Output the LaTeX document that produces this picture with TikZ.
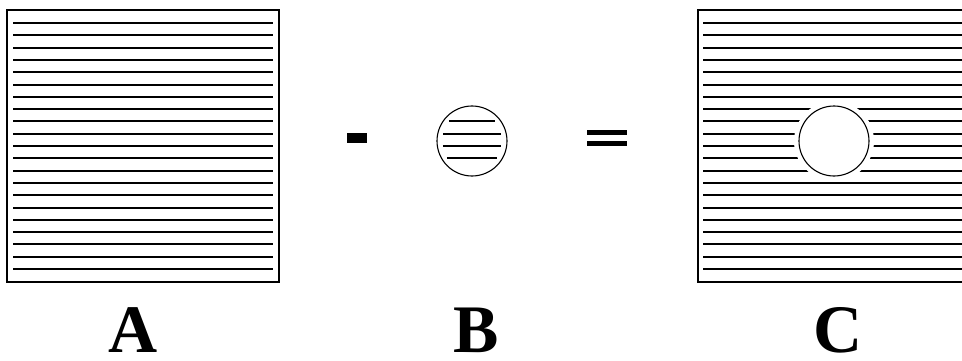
\documentclass[tikz,border=0pt]{standalone}
\usepackage{fontspec}
\setmainfont{Liberation Serif}
\begin{document}
\begin{tikzpicture}[x=1pt,y=-1pt,
  hatch/.style={line width=1.8pt},
  frame/.style={line width=1.8pt},
  ring/.style={line width=1.1pt},
  lbl/.style={font=\fontsize{68}{68}\selectfont\bfseries, anchor=base, inner sep=0pt, text depth=0pt}]
\clip (0,0) rectangle (962,361);
% Box A
\draw[frame] (7,10) rectangle (279,282);
\foreach \k in {0,...,20} {
  \pgfmathsetmacro{\yy}{round(23+12.3*\k)}
  \draw[hatch] (13,\yy) -- (273,\yy);
}
% minus
\fill (347,133) rectangle (367,143);
% circle B
\node[circle, draw, ring, minimum size=70pt, inner sep=0pt] (cb) at (472,141) {};
\foreach \k in {8,...,11} {
  \pgfmathsetmacro{\yy}{round(23+12.3*\k)}
  \pgfmathsetmacro{\hw}{sqrt(35*35-(\yy-141)*(\yy-141))-5.5}
  \draw[hatch] ({472-\hw},\yy) -- ({472+\hw},\yy);
}
% equals
\fill (587,130) rectangle (627,134.5);
\fill (587,141) rectangle (627,146);
% Box C
\draw[frame] (698,10) rectangle (990,282);
\foreach \k in {0,...,20} {
  \pgfmathsetmacro{\yy}{round(23+12.3*\k)}
  \draw[hatch] (703,\yy) -- (970,\yy);
}
\fill[white] (834,141) circle (40);
\node[circle, draw, ring, minimum size=70pt, inner sep=0pt] (cc) at (834,141) {};
% labels
\node[lbl] (la) at (133,352) {A};
\node[lbl] (lb) at (476,352) {B};
\node[lbl] (lc) at (838,352) {C};
\end{tikzpicture}
\end{document}
